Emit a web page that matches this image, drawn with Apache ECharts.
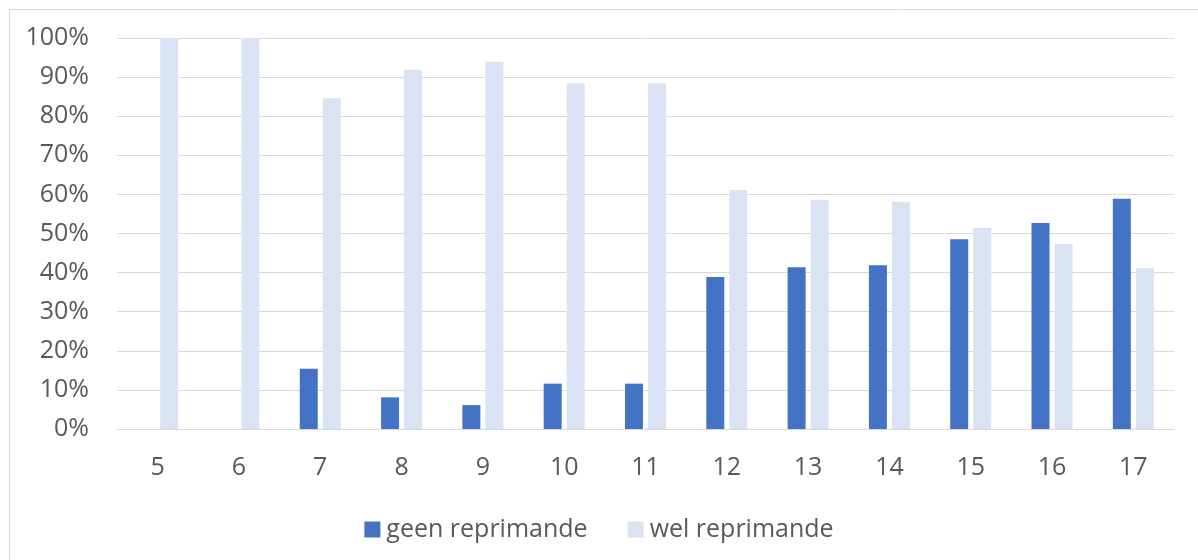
<!DOCTYPE html>
<html>
<head>
<meta charset="utf-8">
<script src="https://cdn.jsdelivr.net/npm/echarts@6/dist/echarts.min.js"></script>
<style>
html,body{margin:0;padding:0;background:#fff;}
#chart{width:1198px;height:560px;}
</style>
</head>
<body>
<div id="chart"></div>
<script>
const categories = ['5','6','7','8','9','10','11','12','13','14','15','16','17'];
const geenReprimande = [0, 0, 15.4, 8.1, 6.1, 11.6, 11.6, 38.9, 41.4, 41.9, 48.5, 52.7, 58.9];
const welReprimande = [100, 100, 84.6, 91.9, 93.9, 88.4, 88.4, 61.1, 58.6, 58.1, 51.5, 47.3, 41.1];
const seriesNames = ['geen reprimande', 'wel reprimande'];

const font = 'Open Sans';
const textColor = '#595959';
const chart = echarts.init(document.getElementById('chart'));
chart.setOption({
  animation: false,
  backgroundColor: '#ffffff',
  graphic: [{
    type: 'rect',
    left: 7, top: 7,
    shape: { width: 1300, height: 700 },
    style: { fill: 'none', stroke: '#D9D9D9', lineWidth: 1 },
    silent: true, z: -1
  }],
  grid: { left: 117, right: 24, top: 38, bottom: 131 },
  legend: {
    data: seriesNames,
    top: 512,
    left: 'center',
    itemWidth: 16, itemHeight: 16, itemGap: 40,
    icon: 'rect',
    textStyle: { fontFamily: font, fontSize: 25, color: textColor, padding: [0,0,0,1] }
  },
  xAxis: {
    type: 'category',
    data: categories,
    axisLine: { lineStyle: { color: '#D9D9D9', width: 1 } },
    axisTick: { show: false },
    axisLabel: { fontFamily: font, fontSize: 25, color: textColor, margin: 26 }
  },
  yAxis: {
    type: 'value',
    min: 0, max: 100, interval: 10,
    axisLine: { show: false },
    axisTick: { show: false },
    splitLine: { lineStyle: { color: '#D9D9D9', width: 1 } },
    axisLabel: { fontFamily: font, fontSize: 25, color: textColor, margin: 28, formatter: '{value}%' }
  },
  series: [
    { name: seriesNames[0], type: 'bar', data: geenReprimande, barWidth: 18, barGap: '28%',
      itemStyle: { color: '#4472C4' } },
    { name: seriesNames[1], type: 'bar', data: welReprimande, barWidth: 18,
      itemStyle: { color: '#DAE3F3' } }
  ]
});
</script>
</body>
</html>
